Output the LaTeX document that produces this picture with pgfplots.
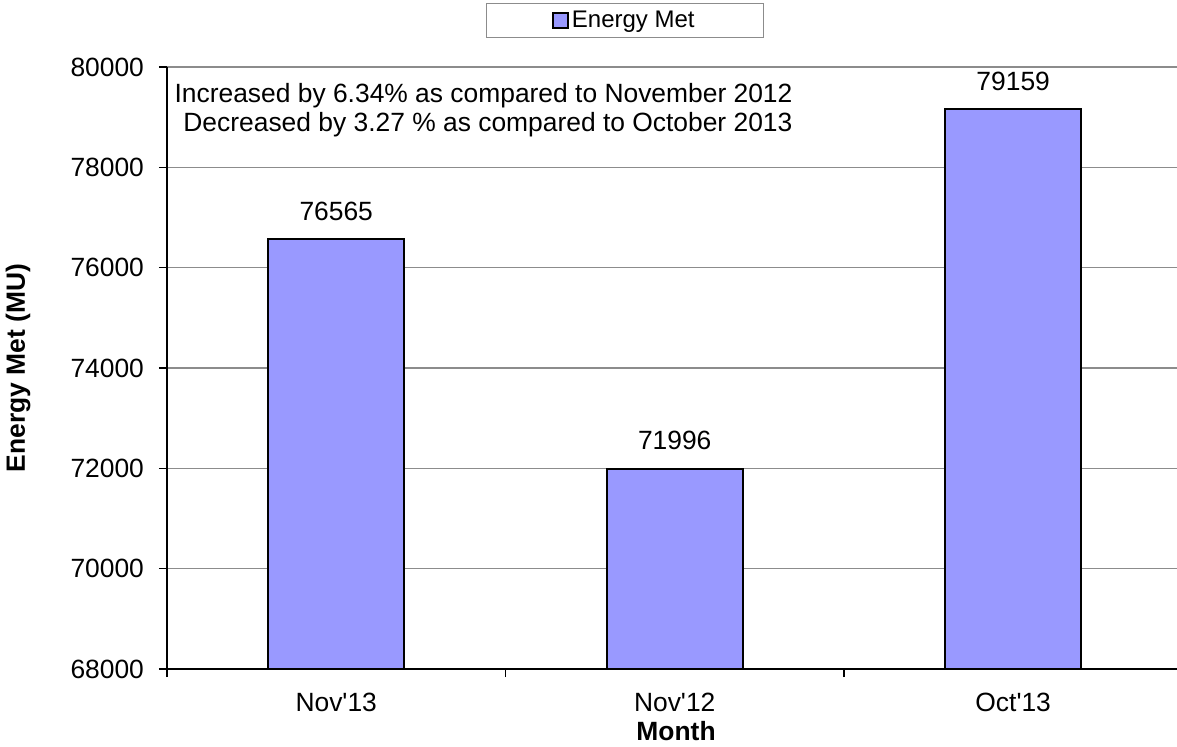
\documentclass[border=0pt]{standalone}
\usepackage{fontspec}
\setmainfont{Liberation Sans}
\usepackage{pgfplots}
\usepackage{pgfplotstable}
\pgfplotsset{compat=1.18}
\definecolor{barblue}{HTML}{9999FF}
\definecolor{gridgray}{HTML}{8C8C8C}

\pgfplotstableread{
x y
0 76565
1 71996
2 79159
}\energydata

\begin{document}
\begin{tikzpicture}
\begin{axis}[
  at={(0,0)}, anchor=south west,
  scale only axis, width=505pt, height=301pt,
  xmin=-0.5, xmax=2.484, ymin=68000, ymax=80000,
  ytick={68000,70000,72000,74000,76000,78000,80000},
  scaled y ticks=false,
  /pgf/number format/1000 sep={},
  /pgf/number format/assume math mode=true,
  axis x line*=bottom, axis y line*=left,
  axis line style={black, line width=0.9pt},
  tick align=outside,
  major tick length=4pt,
  tick style={black, line width=0.6pt},
  xtick={-0.5,0.5,1.5},
  xticklabels={},
  extra x ticks={0,1,2},
  extra x tick labels={Nov\textquotesingle 13,Nov\textquotesingle 12,Oct\textquotesingle 13},
  extra x tick style={major tick length=0pt, grid=none},
  ymajorgrids,
  grid style={gridgray, line width=0.7pt},
  tick label style={font=\fontsize{13.2}{15.8}\selectfont},
  xticklabel style={yshift=-8.5pt},
  yticklabel style={xshift=-4pt},
  xlabel={\textbf{Month}},
  ylabel={\textbf{Energy Met (MU)}},
  label style={font=\fontsize{13.2}{15.8}\selectfont},
  xlabel style={at={(axis description cs:0.504,-0.103)}, anchor=center},
  ylabel style={at={(axis description cs:-0.1475,0.5)}, anchor=center},
  ybar, bar width=68pt,
  point meta=explicit symbolic,
  nodes near coords,
  every node near coord/.append style={font=\fontsize{13.2}{15.8}\selectfont, anchor=base, inner sep=0pt, yshift=9.5pt},
  legend style={at={(axis description cs:0.4574,1)}, anchor=south, yshift=14.5pt, xshift=-2pt,
    draw=gridgray, line width=0.6pt, inner xsep=33pt, inner ysep=1.5pt,
    nodes={inner xsep=1.5pt},
    font=\fontsize{12}{14}\selectfont},
  legend image code/.code={\draw[#1, line width=0.8pt] (0pt,-3.75pt) rectangle (7.5pt,3.75pt);},
]
\addplot[fill=barblue, draw=black, line width=1pt] table[x=x, y=y, meta=y] {\energydata};
\addlegendentry{Energy Met}
\node[anchor=base east, font=\fontsize{13.2}{15.8}\selectfont, inner sep=0pt] at (axis cs:1.349,79286) {Increased by 6.34\% as compared to November 2012};
\node[anchor=base east, font=\fontsize{13.2}{15.8}\selectfont, inner sep=0pt] at (axis cs:1.349,78706) {Decreased by 3.27 \% as compared to October 2013};
\end{axis}
\pgfresetboundingbox
\path[use as bounding box] (-83.5pt,-38.5pt) rectangle (505pt,334.5pt);
\end{tikzpicture}
\end{document}
